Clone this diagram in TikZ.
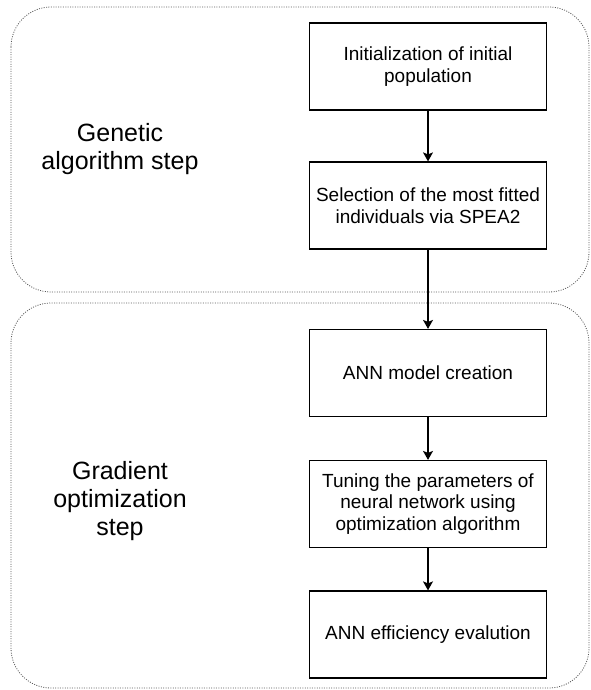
\documentclass[tikz,border=0pt]{standalone}
\usepackage{fontspec}
\setmainfont{Liberation Sans}
\usetikzlibrary{arrows.meta}
\begin{document}
\begin{tikzpicture}[x=1pt, y=-1pt,
    stage/.style={draw, line width=1.2pt, minimum width=237pt, minimum height=87pt,
        align=center, inner sep=2pt, font=\fontsize{19}{21.5}\selectfont},
    phase/.style={draw=black!65, line width=0.8pt, dash pattern=on 1pt off 1.4pt,
        rounded corners=40pt},
    phaselabel/.style={align=center, font=\fontsize{25}{28}\selectfont},
    flow/.style={-{Stealth[length=9pt, width=10pt, inset=2pt]}, line width=1.2pt}]
    \useasboundingbox (0,0) rectangle (590,690);
    % the two stages of the method
    \draw[phase] (11,7) rectangle (589,292);
    \draw[phase] (11,303) rectangle (589,688);
    \node[phaselabel] (genlbl) at (120,149) {Genetic\\algorithm step};
    \node[phaselabel] (gradlbl) at (120,501) {Gradient\\optimization\\step};
    % steps
    \node[stage] (init) at (428,66.5) {Initialization of initial\\population};
    \node[stage] (select) at (428,205.5) {Selection of the most fitted\\individuals via SPEA2};
    \node[stage] (model) at (428,373) {ANN model creation};
    \node[stage] (tune) at (428,504) {Tuning the parameters of\\neural network using\\optimization algorithm};
    \node[stage] (eval) at (428,634.5) {ANN efficiency evalution};
    \draw[flow] (init) -- (select);
    \draw[flow] (select) -- (model);
    \draw[flow] (model) -- (tune);
    \draw[flow] (tune) -- (eval);
\end{tikzpicture}
\end{document}
